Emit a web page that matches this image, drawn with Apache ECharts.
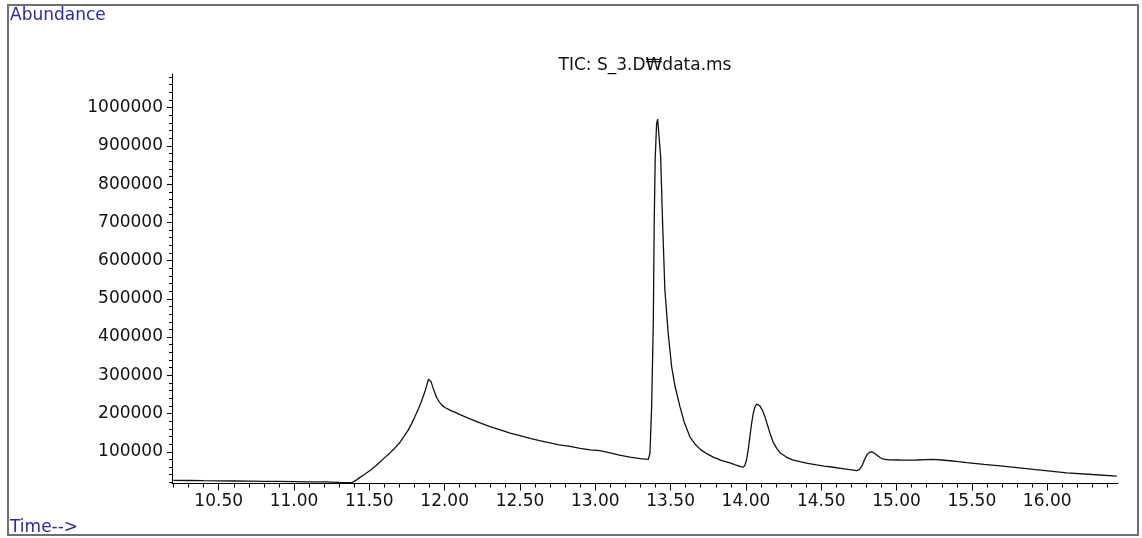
<!DOCTYPE html>
<html>
<head>
<meta charset="utf-8">
<script src="https://cdn.jsdelivr.net/npm/echarts@6/dist/echarts.min.js"></script>
<style>
html,body{margin:0;padding:0;background:#fff;}
#chart{width:1142px;height:538px;}
</style>
</head>
<body>
<div id="chart"></div>
<script>
// Retention times (min)
const times = [
  10.20, 10.30, 10.40, 10.50, 10.60, 10.70, 10.80, 10.90, 11.00, 11.10, 11.20, 11.30,
  11.385, 11.41, 11.438, 11.47, 11.504, 11.54, 11.571, 11.60, 11.637, 11.67, 11.704, 11.73,
  11.757, 11.78, 11.803, 11.825, 11.843, 11.858, 11.870, 11.882, 11.893,
  11.902, 11.909, 11.918, 11.929, 11.949, 11.965, 11.982, 12.005, 12.035, 12.07, 12.102,
  12.168, 12.23, 12.301, 12.37, 12.434, 12.50, 12.567, 12.63, 12.699, 12.76,
  12.832, 12.90, 12.965, 13.030, 13.098, 13.16, 13.230, 13.300, 13.352, 13.363, 13.374, 13.385, 13.391,
  13.398, 13.407, 13.414, 13.419, 13.424, 13.434, 13.447, 13.462, 13.484, 13.507, 13.53, 13.562, 13.59,
  13.628, 13.66, 13.695, 13.74, 13.783, 13.84, 13.894, 13.930, 13.960, 13.978, 13.992, 14.004, 14.015,
  14.026, 14.037, 14.048, 14.06, 14.071, 14.082, 14.093, 14.11, 14.126, 14.143, 14.160, 14.18, 14.204,
  14.23, 14.271, 14.31, 14.359, 14.41, 14.470, 14.52, 14.580, 14.64, 14.702, 14.735, 14.752, 14.768,
  14.785, 14.802, 14.82, 14.835, 14.85, 14.868, 14.89, 14.912, 14.95, 15.023, 15.08, 15.134, 15.19,
  15.244, 15.30, 15.355, 15.41, 15.466, 15.58, 15.687, 15.80, 15.908, 16.02, 16.129, 16.30, 16.461
];
// Total ion current abundance
const abundance = [
  25000, 24800, 24300, 24000, 23600, 23200, 22800, 22300, 22000, 21500, 21000, 20000,
  19500, 25000, 33000, 41000, 51000, 62000, 73000, 84000, 97000, 110000, 125000, 140000,
  156000, 173000, 192000, 211000, 229000, 245000, 259000, 275000, 290000,
  289000, 284000, 273000, 260000, 240000, 230000, 222000, 215000, 209000, 203000, 197000,
  186000, 176000, 166000, 157000, 149000, 142000, 135000, 129000, 123000, 118000,
  114000, 109000, 105000, 103000, 97000, 91000, 86000, 82000, 80000, 96000, 218000, 436000, 697000,
  871000, 958000, 970000, 969000, 966000, 871000, 697000, 523000, 410000, 322000, 270000, 218000, 178000,
  139000, 121000, 107000, 95000, 86000, 77000, 71000, 66000, 62000, 59500, 63000, 78500, 105000,
  139000, 172000, 200000, 217000, 225000, 224000, 220000, 208000, 192000, 170000, 148000, 126000, 109000,
  96000, 85500, 79000, 74000, 69500, 65500, 62500, 59500, 56000, 52500, 50500, 53500, 61000,
  77000, 91500, 98500, 100000, 97000, 91500, 85000, 80500, 79000, 78500, 78300, 78500, 79300,
  80000, 78500, 76500, 74000, 71500, 67000, 63000, 58500, 54000, 49500, 45000, 40500, 36500
];
// Tick labels / positions
const xTickValues = [10.5, 11.0, 11.5, 12.0, 12.5, 13.0, 13.5, 14.0, 14.5, 15.0, 15.5, 16.0];
const xMinorTicks = [10.2,10.3,10.4,10.6,10.7,10.8,10.9,11.1,11.2,11.3,11.4,11.6,11.7,11.8,11.9,
  12.1,12.2,12.3,12.4,12.6,12.7,12.8,12.9,13.1,13.2,13.3,13.4,13.6,13.7,13.8,13.9,
  14.1,14.2,14.3,14.4,14.6,14.7,14.8,14.9,15.1,15.2,15.3,15.4,15.6,15.7,15.8,15.9,16.1,16.2,16.3,16.4];
const yTickValues = [100000, 200000, 300000, 400000, 500000, 600000, 700000, 800000, 900000, 1000000];
const yMinorTicks = [20000,40000,60000,80000,120000,140000,160000,180000,220000,240000,260000,280000,
  320000,340000,360000,380000,420000,440000,460000,480000,520000,540000,560000,580000,
  620000,640000,660000,680000,720000,740000,760000,780000,820000,840000,860000,880000,
  920000,940000,960000,980000,1020000,1040000,1060000,1080000];

const titleText = 'TIC: S_3.D\u20A9data.ms';
const yName = 'Abundance';
const xName = 'Time-->';

const X_MIN = 10.19, X_MAX = 16.47, Y_MIN = 17000, Y_MAX = 1088000;
const FONT = 'DejaVu Sans';
const gridRect = {left: 172, right: 24, top: 74, bottom: 54.5, containLabel: false};

const chart = echarts.init(document.getElementById('chart'), null, {renderer: 'canvas'});
chart.setOption({
  animation: false,
  backgroundColor: '#ffffff',
  grid: [Object.assign({}, gridRect), Object.assign({}, gridRect)],
  xAxis: [{
    type: 'value', gridIndex: 0, min: X_MIN, max: X_MAX,
    axisLine: {show: true, lineStyle: {color: '#000', width: 1}},
    axisTick: {show: true, length: 7, customValues: xTickValues, lineStyle: {color: '#000'}},
    axisLabel: {show: true, customValues: xTickValues, margin: 10, color: '#111',
      fontFamily: FONT, fontSize: 17, formatter: v => Number(v).toFixed(2)},
    splitLine: {show: false}
  }, {
    type: 'value', gridIndex: 1, min: X_MIN, max: X_MAX,
    axisLine: {show: false},
    axisTick: {show: true, length: 4, customValues: xMinorTicks, lineStyle: {color: '#000'}},
    axisLabel: {show: false},
    splitLine: {show: false}
  }],
  yAxis: [{
    type: 'value', gridIndex: 0, min: Y_MIN, max: Y_MAX,
    axisLine: {show: true, lineStyle: {color: '#000', width: 1}},
    axisTick: {show: true, length: 5, customValues: yTickValues, lineStyle: {color: '#000'}},
    axisLabel: {show: true, customValues: yTickValues, margin: 9, color: '#111',
      fontFamily: FONT, fontSize: 17, formatter: v => String(Math.round(v))},
    splitLine: {show: false}
  }, {
    type: 'value', gridIndex: 1, min: Y_MIN, max: Y_MAX,
    axisLine: {show: false},
    axisTick: {show: true, length: 3, customValues: yMinorTicks, lineStyle: {color: '#000'}},
    axisLabel: {show: false},
    splitLine: {show: false}
  }],
  series: [{
    type: 'line', xAxisIndex: 0, yAxisIndex: 0,
    data: times.map((t, i) => [t, abundance[i]]),
    showSymbol: false, symbol: 'none',
    smooth: false,
    lineStyle: {color: '#111', width: 1.3},
    clip: true
  }],
  graphic: [
    {type: 'rect', shape: {x: 8, y: 5, width: 1130, height: 530},
      style: {fill: 'none', stroke: '#6f6f6f', lineWidth: 2}, silent: true},
    {type: 'text', x: 10, y: 16, style: {text: yName, fill: '#2a2aa5', font: '17px "DejaVu Sans"',
      textAlign: 'left', textVerticalAlign: 'middle'}},
    {type: 'text', x: 10, y: 528, style: {text: xName, fill: '#2a2aa5', font: '17px "DejaVu Sans"',
      textAlign: 'left', textVerticalAlign: 'middle'}},
    {type: 'text', x: 645, y: 66, style: {text: titleText, fill: '#111', font: '17px "DejaVu Sans"',
      textAlign: 'center', textVerticalAlign: 'middle'}}
  ]
});
</script>
</body>
</html>
